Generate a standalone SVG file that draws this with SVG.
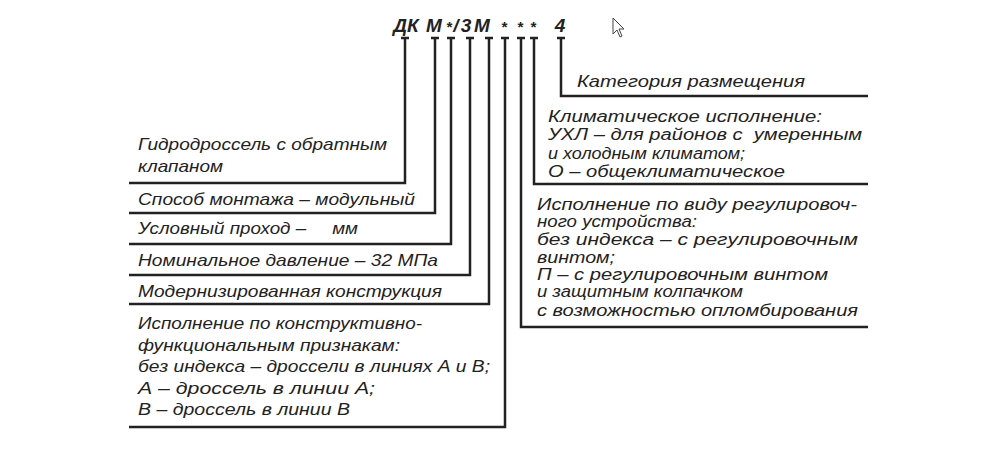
<svg xmlns="http://www.w3.org/2000/svg" width="998" height="449" viewBox="0 0 998 449">
<style>
.t{font-family:"Liberation Sans",Arial,sans-serif;font-style:italic;font-size:17px;fill:#222}
.r{font-size:16px}
.c{font-family:"Liberation Sans",Arial,sans-serif;font-style:italic;font-weight:bold;font-size:19px;fill:#222;text-anchor:middle}
.s{font-size:15px}
.ln{fill:none;stroke:#222;stroke-width:2.5}
</style>
<rect width="998" height="449" fill="#fff"/>
<g id="code">
<text class="c" x="406" y="32">ДК</text>
<text class="c" x="434" y="32">М</text>
<text class="c s" x="449" y="32">*</text>
<text class="c" x="456" y="32">/</text>
<text class="c" x="466" y="32">3</text>
<text class="c" x="482" y="32">М</text>
<text class="c s" x="504" y="32">*</text>
<text class="c s" x="520" y="32">*</text>
<text class="c s" x="533" y="32">*</text>
<text class="c" x="560" y="32">4</text>
</g>
<g id="connectors" class="ln">
<path d="M401,38H409M405,38V183H129"/>
<path d="M431,38H439M435,38V213H129"/>
<path d="M447,38H455M451,38V244H129"/>
<path d="M466,38H474M470,38V275H129"/>
<path d="M485,38H493M489,38V304H129"/>
<path d="M501,38H509M505,38V427H129"/>
<path d="M517,38H525M521,38V327H868"/>
<path d="M530,38H538M534,38V184H868"/>
<path d="M557,38H565M561,38V96H868"/>
</g>
<g id="n1"><text class="t" x="138" y="150" textLength="249" lengthAdjust="spacingAndGlyphs">Гидродроссель с обратным</text><text class="t" x="138" y="172" textLength="85" lengthAdjust="spacingAndGlyphs">клапаном</text></g>
<g id="n2"><text class="t" x="138" y="205" textLength="277" lengthAdjust="spacingAndGlyphs">Способ монтажа – модульный</text></g>
<g id="n3"><text class="t" x="138" y="234" textLength="220" lengthAdjust="spacingAndGlyphs" xml:space="preserve">Условный проход –     мм</text></g>
<g id="n4"><text class="t" x="138" y="266" textLength="300" lengthAdjust="spacingAndGlyphs">Номинальное давление – 32 МПа</text></g>
<g id="n5"><text class="t" x="138" y="297" textLength="304" lengthAdjust="spacingAndGlyphs">Модернизированная конструкция</text></g>
<g id="n6">
<text class="t" x="138" y="329" textLength="284" lengthAdjust="spacingAndGlyphs">Исполнение по конструктивно-</text>
<text class="t" x="138" y="351" textLength="262" lengthAdjust="spacingAndGlyphs">функциональным признакам:</text>
<text class="t" x="138" y="372" textLength="352" lengthAdjust="spacingAndGlyphs">без индекса – дроссели в линиях А и В;</text>
<text class="t" x="138" y="394" textLength="237" lengthAdjust="spacingAndGlyphs">А – дроссель в линии А;</text>
<text class="t" x="138" y="415" textLength="212" lengthAdjust="spacingAndGlyphs">В – дроссель в линии В</text>
</g>
<g id="n9"><text class="t" x="577" y="87" textLength="228" lengthAdjust="spacingAndGlyphs">Категория размещения</text></g>
<g id="n8">
<text class="t r" x="548" y="122" textLength="274" lengthAdjust="spacingAndGlyphs">Климатическое исполнение:</text>
<text class="t r" x="548" y="140" textLength="314" lengthAdjust="spacingAndGlyphs" xml:space="preserve">УХЛ – для районов с  умеренным</text>
<text class="t r" x="548" y="159" textLength="197" lengthAdjust="spacingAndGlyphs">и холодным климатом;</text>
<text class="t r" x="548" y="177" textLength="237" lengthAdjust="spacingAndGlyphs">О – общеклиматическое</text>
</g>
<g id="n7">
<text class="t r" x="537" y="210" textLength="320" lengthAdjust="spacingAndGlyphs">Исполнение по виду регулировоч-</text>
<text class="t r" x="537" y="227" textLength="160" lengthAdjust="spacingAndGlyphs">ного устройства:</text>
<text class="t r" x="537" y="245" textLength="321" lengthAdjust="spacingAndGlyphs">без индекса – с регулировочным</text>
<text class="t r" x="537" y="263" textLength="78" lengthAdjust="spacingAndGlyphs">винтом;</text>
<text class="t r" x="537" y="280" textLength="291" lengthAdjust="spacingAndGlyphs">П – с регулировочным винтом</text>
<text class="t r" x="537" y="297" textLength="206" lengthAdjust="spacingAndGlyphs">и защитным колпачком</text>
<text class="t r" x="537" y="316" textLength="321" lengthAdjust="spacingAndGlyphs">с возможностью опломбирования</text>
</g>
<path d="M613,18L613,34L617,30L620,37L622,36L619,29L624,29Z" fill="#fff" stroke="#444" stroke-width="1"/>
</svg>
